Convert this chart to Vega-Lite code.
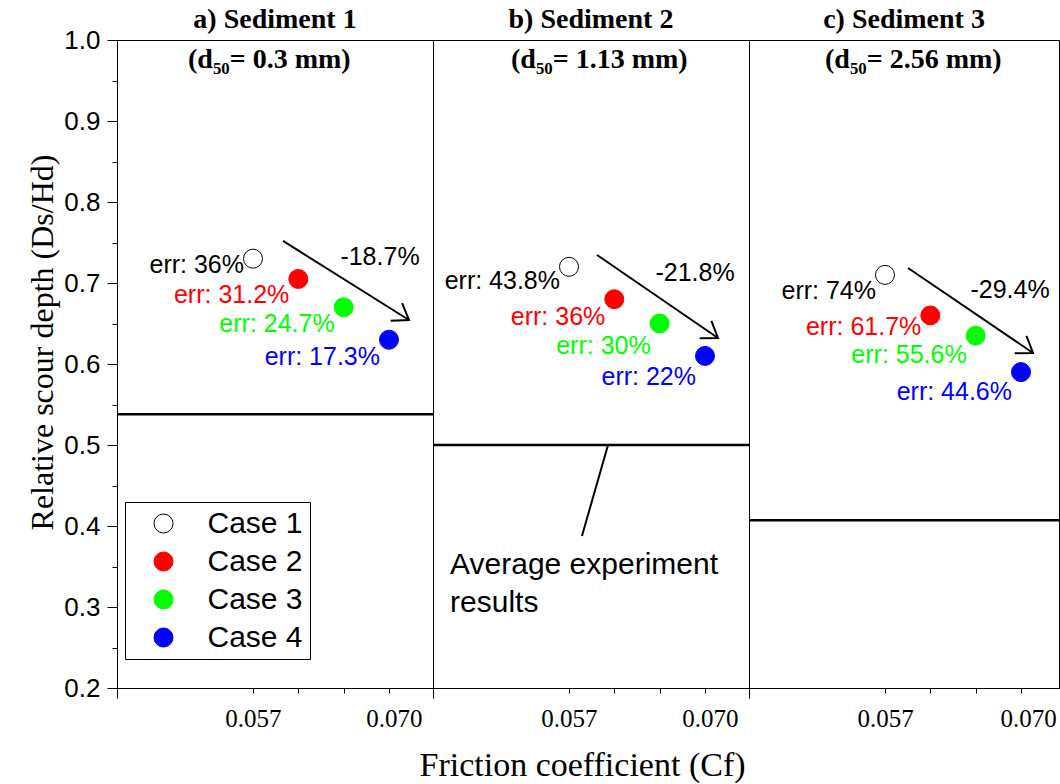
{
  "$schema": "https://vega.github.io/schema/vega-lite/v6.json",
  "background": "white",
  "padding": {"left": 26, "top": 5, "right": 0, "bottom": 0},
  "spacing": 0,
  "bounds": "flush",
  "config": {
    "view": {"stroke": "black", "strokeWidth": 1},
    "axis": {"grid": false, "domainColor": "black", "tickColor": "black", "labelColor": "black", "titleColor": "black", "domainWidth": 1, "tickWidth": 1, "labelFlush": false, "labelOverlap": false},
    "axisX": {"labelFont": "Liberation Serif", "labelFontSize": 25, "tickSize": 5, "labelPadding": 13, "titleFont": "Liberation Serif", "titleFontSize": 34, "titleFontWeight": "normal", "titlePadding": 12},
    "axisY": {"labelFont": "Liberation Sans", "labelFontSize": 26, "labelPadding": 7, "titleFont": "Liberation Serif", "titleFontSize": 32, "titleFontWeight": "normal", "titlePadding": 4},
    "title": {"font": "Liberation Serif", "fontSize": 28, "fontWeight": "bold", "color": "black", "offset": 6, "anchor": "middle"}
  },
  "datasets": {
    "pts": [
      {"panel": "a", "case": "Case 1", "x": 0.057, "y": 0.73, "ly": 0.722, "err": "err: 36%"},
      {"panel": "a", "case": "Case 2", "x": 0.06133, "y": 0.705, "ly": 0.685, "err": "err: 31.2%"},
      {"panel": "a", "case": "Case 3", "x": 0.06567, "y": 0.67, "ly": 0.649, "err": "err: 24.7%"},
      {"panel": "a", "case": "Case 4", "x": 0.07, "y": 0.63, "ly": 0.609, "err": "err: 17.3%"},
      {"panel": "b", "case": "Case 1", "x": 0.057, "y": 0.72, "ly": 0.702, "err": "err: 43.8%"},
      {"panel": "b", "case": "Case 2", "x": 0.06133, "y": 0.68, "ly": 0.658, "err": "err: 36%"},
      {"panel": "b", "case": "Case 3", "x": 0.06567, "y": 0.65, "ly": 0.622, "err": "err: 30%"},
      {"panel": "b", "case": "Case 4", "x": 0.07, "y": 0.61, "ly": 0.584, "err": "err: 22%"},
      {"panel": "c", "case": "Case 1", "x": 0.057, "y": 0.71, "ly": 0.69, "err": "err: 74%"},
      {"panel": "c", "case": "Case 2", "x": 0.06133, "y": 0.66, "ly": 0.646, "err": "err: 61.7%"},
      {"panel": "c", "case": "Case 3", "x": 0.06567, "y": 0.635, "ly": 0.611, "err": "err: 55.6%"},
      {"panel": "c", "case": "Case 4", "x": 0.07, "y": 0.59, "ly": 0.566, "err": "err: 44.6%"}
    ],
    "avg": [
      {"panel": "a", "y": 0.538},
      {"panel": "b", "y": 0.5},
      {"panel": "c", "y": 0.407}
    ],
    "lines": [
      {"panel": "a", "kind": "arrow", "x": 0.05987, "y": 0.7519, "x2": 0.07191, "y2": 0.6543},
      {"panel": "b", "kind": "arrow", "x": 0.05968, "y": 0.7346, "x2": 0.07124, "y2": 0.6321},
      {"panel": "c", "kind": "arrow", "x": 0.0592, "y": 0.7185, "x2": 0.07115, "y2": 0.6136},
      {"panel": "b", "kind": "pointer", "x": 0.06073, "y": 0.5, "x2": 0.05824, "y2": 0.3877}
    ],
    "notes": [
      {"panel": "a", "kind": "d50", "x": 0.050787, "y": 0.975, "text": "(d₅₀= 0.3 mm)"},
      {"panel": "b", "kind": "d50", "x": 0.051456, "y": 0.975, "text": "(d₅₀= 1.13 mm)"},
      {"panel": "c", "kind": "d50", "x": 0.051265, "y": 0.975, "text": "(d₅₀= 2.56 mm)"},
      {"panel": "a", "kind": "pct", "x": 0.06914, "y": 0.732, "text": "-18.7%"},
      {"panel": "b", "kind": "pct", "x": 0.06905, "y": 0.7123, "text": "-21.8%"},
      {"panel": "c", "kind": "pct", "x": 0.06895, "y": 0.6914, "text": "-29.4%"},
      {"panel": "b", "kind": "avg", "x": 0.04563, "y": 0.352, "text": "Average experiment"},
      {"panel": "b", "kind": "avg", "x": 0.04563, "y": 0.305, "text": "results"}
    ]
  },
  "resolve": {"scale": {"x": "independent", "y": "independent", "fill": "independent", "stroke": "independent", "color": "independent"}},
  "hconcat": [
    {
      "width": 316, "height": 648,
      "title": {"text": "a) Sediment 1", "offset": -7},
      "layer": [
        {"data": {"name": "pts"}, "transform": [{"filter": "datum.panel==='a'"}],
         "mark": {"type": "point", "filled": true, "size": 361, "opacity": 1, "strokeWidth": 1},
         "encoding": {
           "x": {"field": "x", "type": "quantitative", "scale": {"domain": [0.044, 0.074206], "zero": false, "nice": false},
                 "axis": {"values": [0.044, 0.057, 0.06133, 0.06567, 0.07, 0.074206],
                          "labelExpr": "(datum.value==0.057 || datum.value==0.07) ? format(datum.value, '.3f') : ''",
                          "tickSize": {"condition": {"test": "datum.value < 0.05 || datum.value > 0.072", "value": 10}, "value": 5},
                          "labelOffset": {"condition": {"test": "datum.value==0.07", "value": 5}, "value": 0},
                          "title": null}},
           "y": {"field": "y", "type": "quantitative", "scale": {"domain": [0.2, 1.0], "zero": false, "nice": false},
                 "axis": {"values": [0.2, 0.25, 0.3, 0.35, 0.4, 0.45, 0.5, 0.55, 0.6, 0.65, 0.7, 0.75, 0.8, 0.85, 0.9, 0.95, 1.0],
                          "labelExpr": "abs(datum.value*10-round(datum.value*10))<0.001 ? format(datum.value, '.1f') : ''",
                          "tickSize": {"condition": {"test": "abs(datum.value*10-round(datum.value*10))<0.001", "value": 10}, "value": 5},
                          "title": "Relative scour depth (Ds/Hd)", "titleY": 302}},
           "fill": {"field": "case", "type": "nominal", "scale": {"domain": ["Case 1", "Case 2", "Case 3", "Case 4"], "range": ["white", "#ff0000", "#00ff00", "#0000ff"]},
                    "legend": {"title": null, "orient": "none", "legendX": 8, "legendY": 462, "strokeColor": "black", "padding": 6.5, "labelFont": "Liberation Sans", "labelFontSize": 30, "labelColor": "black", "symbolSize": 361, "symbolType": "circle", "symbolStrokeWidth": 1, "symbolOffset": 17, "labelOffset": 29, "rowPadding": 8, "fillColor": "white"}},
           "stroke": {"field": "case", "type": "nominal", "scale": {"domain": ["Case 1", "Case 2", "Case 3", "Case 4"], "range": ["black", "#ff0000", "#00ff00", "#0000ff"]},
                    "legend": {"title": null, "orient": "none", "legendX": 8, "legendY": 462, "strokeColor": "black", "padding": 6.5, "labelFont": "Liberation Sans", "labelFontSize": 30, "labelColor": "black", "symbolSize": 361, "symbolType": "circle", "symbolStrokeWidth": 1, "symbolOffset": 17, "labelOffset": 29, "rowPadding": 8, "fillColor": "white"}}}},
        {"data": {"name": "avg"}, "transform": [{"filter": "datum.panel==='a'"}],
         "mark": {"type": "rule", "stroke": "black", "strokeWidth": 2.5},
         "encoding": {"y": {"field": "y", "type": "quantitative", "scale": {"domain": [0.2, 1.0], "zero": false, "nice": false}}}},
        {"data": {"name": "lines"}, "transform": [{"filter": "datum.panel==='a'"}],
         "mark": {"type": "rule", "stroke": "black", "strokeWidth": 2},
         "encoding": {
           "x": {"field": "x", "type": "quantitative", "scale": {"domain": [0.044, 0.074206], "zero": false, "nice": false}},
           "y": {"field": "y", "type": "quantitative", "scale": {"domain": [0.2, 1.0], "zero": false, "nice": false}},
           "x2": {"field": "x2"}, "y2": {"field": "y2"}}},
        {"data": {"name": "lines"}, "transform": [{"filter": "datum.panel==='a' && datum.kind==='arrow'"}],
         "mark": {"type": "point", "shape": "M -1 -0.7 L 0 0 L -1 0.7", "size": 900, "angle": 33, "filled": false, "stroke": "black", "strokeWidth": 2, "opacity": 1},
         "encoding": {
           "x": {"field": "x2", "type": "quantitative", "scale": {"domain": [0.044, 0.074206], "zero": false, "nice": false}},
           "y": {"field": "y2", "type": "quantitative", "scale": {"domain": [0.2, 1.0], "zero": false, "nice": false}}}},
        {"data": {"name": "pts"}, "transform": [{"filter": "datum.panel==='a'"}],
         "mark": {"type": "text", "align": "right", "baseline": "middle", "dx": -9, "font": "Liberation Sans", "fontSize": 25},
         "encoding": {
           "x": {"field": "x", "type": "quantitative", "scale": {"domain": [0.044, 0.074206], "zero": false, "nice": false}},
           "y": {"field": "ly", "type": "quantitative", "scale": {"domain": [0.2, 1.0], "zero": false, "nice": false}},
           "text": {"field": "err"},
           "color": {"field": "case", "type": "nominal", "scale": {"domain": ["Case 1", "Case 2", "Case 3", "Case 4"], "range": ["black", "#ff0000", "#00ff00", "#0000ff"]}, "legend": null}}},
        {"data": {"name": "notes"}, "transform": [{"filter": "datum.panel==='a' && datum.kind==='d50'"}],
         "mark": {"type": "text", "align": "left", "baseline": "middle", "font": "Liberation Serif", "fontSize": 28, "fontWeight": "bold", "color": "black"},
         "encoding": {
           "x": {"field": "x", "type": "quantitative", "scale": {"domain": [0.044, 0.074206], "zero": false, "nice": false}},
           "y": {"field": "y", "type": "quantitative", "scale": {"domain": [0.2, 1.0], "zero": false, "nice": false}},
           "text": {"field": "text"}}},
        {"data": {"name": "notes"}, "transform": [{"filter": "datum.panel==='a' && datum.kind==='pct'"}],
         "mark": {"type": "text", "align": "center", "baseline": "middle", "font": "Liberation Sans", "fontSize": 25, "color": "black"},
         "encoding": {
           "x": {"field": "x", "type": "quantitative", "scale": {"domain": [0.044, 0.074206], "zero": false, "nice": false}},
           "y": {"field": "y", "type": "quantitative", "scale": {"domain": [0.2, 1.0], "zero": false, "nice": false}},
           "text": {"field": "text"}}}
      ]
    },
    {
      "width": 316, "height": 648,
      "title": "b) Sediment 2",
      "layer": [
        {"data": {"name": "pts"}, "transform": [{"filter": "datum.panel==='b'"}],
         "mark": {"type": "point", "filled": true, "size": 361, "opacity": 1, "strokeWidth": 1},
         "encoding": {
           "x": {"field": "x", "type": "quantitative", "scale": {"domain": [0.044, 0.074206], "zero": false, "nice": false},
                 "axis": {"values": [0.044, 0.057, 0.06133, 0.06567, 0.07, 0.074206],
                          "labelExpr": "(datum.value==0.057 || datum.value==0.07) ? format(datum.value, '.3f') : ''",
                          "tickSize": {"condition": {"test": "datum.value < 0.05 || datum.value > 0.072", "value": 10}, "value": 5},
                          "labelOffset": {"condition": {"test": "datum.value==0.07", "value": 5}, "value": 0},
                          "title": "Friction coefficient (Cf)", "titleX": 149}},
           "y": {"field": "y", "type": "quantitative", "scale": {"domain": [0.2, 1.0], "zero": false, "nice": false}, "axis": null},
           "fill": {"field": "case", "type": "nominal", "scale": {"domain": ["Case 1", "Case 2", "Case 3", "Case 4"], "range": ["white", "#ff0000", "#00ff00", "#0000ff"]}, "legend": null},
           "stroke": {"field": "case", "type": "nominal", "scale": {"domain": ["Case 1", "Case 2", "Case 3", "Case 4"], "range": ["black", "#ff0000", "#00ff00", "#0000ff"]}, "legend": null}}},
        {"data": {"name": "avg"}, "transform": [{"filter": "datum.panel==='b'"}],
         "mark": {"type": "rule", "stroke": "black", "strokeWidth": 2.5},
         "encoding": {"y": {"field": "y", "type": "quantitative", "scale": {"domain": [0.2, 1.0], "zero": false, "nice": false}, "axis": null}}},
        {"data": {"name": "lines"}, "transform": [{"filter": "datum.panel==='b'"}],
         "mark": {"type": "rule", "stroke": "black", "strokeWidth": 2},
         "encoding": {
           "x": {"field": "x", "type": "quantitative", "scale": {"domain": [0.044, 0.074206], "zero": false, "nice": false}},
           "y": {"field": "y", "type": "quantitative", "scale": {"domain": [0.2, 1.0], "zero": false, "nice": false}, "axis": null},
           "x2": {"field": "x2"}, "y2": {"field": "y2"}}},
        {"data": {"name": "lines"}, "transform": [{"filter": "datum.panel==='b' && datum.kind==='arrow'"}],
         "mark": {"type": "point", "shape": "M -1 -0.7 L 0 0 L -1 0.7", "size": 900, "angle": 34, "filled": false, "stroke": "black", "strokeWidth": 2, "opacity": 1},
         "encoding": {
           "x": {"field": "x2", "type": "quantitative", "scale": {"domain": [0.044, 0.074206], "zero": false, "nice": false}},
           "y": {"field": "y2", "type": "quantitative", "scale": {"domain": [0.2, 1.0], "zero": false, "nice": false}, "axis": null}}},
        {"data": {"name": "pts"}, "transform": [{"filter": "datum.panel==='b'"}],
         "mark": {"type": "text", "align": "right", "baseline": "middle", "dx": -9, "font": "Liberation Sans", "fontSize": 25},
         "encoding": {
           "x": {"field": "x", "type": "quantitative", "scale": {"domain": [0.044, 0.074206], "zero": false, "nice": false}},
           "y": {"field": "ly", "type": "quantitative", "scale": {"domain": [0.2, 1.0], "zero": false, "nice": false}, "axis": null},
           "text": {"field": "err"},
           "color": {"field": "case", "type": "nominal", "scale": {"domain": ["Case 1", "Case 2", "Case 3", "Case 4"], "range": ["black", "#ff0000", "#00ff00", "#0000ff"]}, "legend": null}}},
        {"data": {"name": "notes"}, "transform": [{"filter": "datum.panel==='b' && datum.kind==='d50'"}],
         "mark": {"type": "text", "align": "left", "baseline": "middle", "font": "Liberation Serif", "fontSize": 28, "fontWeight": "bold", "color": "black"},
         "encoding": {
           "x": {"field": "x", "type": "quantitative", "scale": {"domain": [0.044, 0.074206], "zero": false, "nice": false}},
           "y": {"field": "y", "type": "quantitative", "scale": {"domain": [0.2, 1.0], "zero": false, "nice": false}, "axis": null},
           "text": {"field": "text"}}},
        {"data": {"name": "notes"}, "transform": [{"filter": "datum.panel==='b' && datum.kind==='pct'"}],
         "mark": {"type": "text", "align": "center", "baseline": "middle", "font": "Liberation Sans", "fontSize": 25, "color": "black"},
         "encoding": {
           "x": {"field": "x", "type": "quantitative", "scale": {"domain": [0.044, 0.074206], "zero": false, "nice": false}},
           "y": {"field": "y", "type": "quantitative", "scale": {"domain": [0.2, 1.0], "zero": false, "nice": false}, "axis": null},
           "text": {"field": "text"}}},
        {"data": {"name": "notes"}, "transform": [{"filter": "datum.panel==='b' && datum.kind==='avg'"}],
         "mark": {"type": "text", "align": "left", "baseline": "middle", "font": "Liberation Sans", "fontSize": 30, "color": "black"},
         "encoding": {
           "x": {"field": "x", "type": "quantitative", "scale": {"domain": [0.044, 0.074206], "zero": false, "nice": false}},
           "y": {"field": "y", "type": "quantitative", "scale": {"domain": [0.2, 1.0], "zero": false, "nice": false}, "axis": null},
           "text": {"field": "text"}}}
      ]
    },
    {
      "width": 310, "height": 648,
      "title": "c) Sediment 3",
      "layer": [
        {"data": {"name": "pts"}, "transform": [{"filter": "datum.panel==='c'"}],
         "mark": {"type": "point", "filled": true, "size": 361, "opacity": 1, "strokeWidth": 1},
         "encoding": {
           "x": {"field": "x", "type": "quantitative", "scale": {"domain": [0.044, 0.073632], "zero": false, "nice": false},
                 "axis": {"values": [0.044, 0.057, 0.06133, 0.06567, 0.07],
                          "labelExpr": "(datum.value==0.057 || datum.value==0.07) ? format(datum.value, '.3f') : ''",
                          "tickSize": {"condition": {"test": "datum.value < 0.05", "value": 10}, "value": 5},
                          "labelOffset": {"condition": {"test": "datum.value==0.07", "value": 7}, "value": 0},
                          "title": null}},
           "y": {"field": "y", "type": "quantitative", "scale": {"domain": [0.2, 1.0], "zero": false, "nice": false}, "axis": null},
           "fill": {"field": "case", "type": "nominal", "scale": {"domain": ["Case 1", "Case 2", "Case 3", "Case 4"], "range": ["white", "#ff0000", "#00ff00", "#0000ff"]}, "legend": null},
           "stroke": {"field": "case", "type": "nominal", "scale": {"domain": ["Case 1", "Case 2", "Case 3", "Case 4"], "range": ["black", "#ff0000", "#00ff00", "#0000ff"]}, "legend": null}}},
        {"data": {"name": "avg"}, "transform": [{"filter": "datum.panel==='c'"}],
         "mark": {"type": "rule", "stroke": "black", "strokeWidth": 2.5},
         "encoding": {"y": {"field": "y", "type": "quantitative", "scale": {"domain": [0.2, 1.0], "zero": false, "nice": false}, "axis": null}}},
        {"data": {"name": "lines"}, "transform": [{"filter": "datum.panel==='c'"}],
         "mark": {"type": "rule", "stroke": "black", "strokeWidth": 2},
         "encoding": {
           "x": {"field": "x", "type": "quantitative", "scale": {"domain": [0.044, 0.073632], "zero": false, "nice": false}},
           "y": {"field": "y", "type": "quantitative", "scale": {"domain": [0.2, 1.0], "zero": false, "nice": false}, "axis": null},
           "x2": {"field": "x2"}, "y2": {"field": "y2"}}},
        {"data": {"name": "lines"}, "transform": [{"filter": "datum.panel==='c' && datum.kind==='arrow'"}],
         "mark": {"type": "point", "shape": "M -1 -0.7 L 0 0 L -1 0.7", "size": 900, "angle": 34, "filled": false, "stroke": "black", "strokeWidth": 2, "opacity": 1},
         "encoding": {
           "x": {"field": "x2", "type": "quantitative", "scale": {"domain": [0.044, 0.073632], "zero": false, "nice": false}},
           "y": {"field": "y2", "type": "quantitative", "scale": {"domain": [0.2, 1.0], "zero": false, "nice": false}, "axis": null}}},
        {"data": {"name": "pts"}, "transform": [{"filter": "datum.panel==='c'"}],
         "mark": {"type": "text", "align": "right", "baseline": "middle", "dx": -9, "font": "Liberation Sans", "fontSize": 25},
         "encoding": {
           "x": {"field": "x", "type": "quantitative", "scale": {"domain": [0.044, 0.073632], "zero": false, "nice": false}},
           "y": {"field": "ly", "type": "quantitative", "scale": {"domain": [0.2, 1.0], "zero": false, "nice": false}, "axis": null},
           "text": {"field": "err"},
           "color": {"field": "case", "type": "nominal", "scale": {"domain": ["Case 1", "Case 2", "Case 3", "Case 4"], "range": ["black", "#ff0000", "#00ff00", "#0000ff"]}, "legend": null}}},
        {"data": {"name": "notes"}, "transform": [{"filter": "datum.panel==='c' && datum.kind==='d50'"}],
         "mark": {"type": "text", "align": "left", "baseline": "middle", "font": "Liberation Serif", "fontSize": 28, "fontWeight": "bold", "color": "black"},
         "encoding": {
           "x": {"field": "x", "type": "quantitative", "scale": {"domain": [0.044, 0.073632], "zero": false, "nice": false}},
           "y": {"field": "y", "type": "quantitative", "scale": {"domain": [0.2, 1.0], "zero": false, "nice": false}, "axis": null},
           "text": {"field": "text"}}},
        {"data": {"name": "notes"}, "transform": [{"filter": "datum.panel==='c' && datum.kind==='pct'"}],
         "mark": {"type": "text", "align": "center", "baseline": "middle", "font": "Liberation Sans", "fontSize": 25, "color": "black"},
         "encoding": {
           "x": {"field": "x", "type": "quantitative", "scale": {"domain": [0.044, 0.073632], "zero": false, "nice": false}},
           "y": {"field": "y", "type": "quantitative", "scale": {"domain": [0.2, 1.0], "zero": false, "nice": false}, "axis": null},
           "text": {"field": "text"}}}
      ]
    }
  ]
}
